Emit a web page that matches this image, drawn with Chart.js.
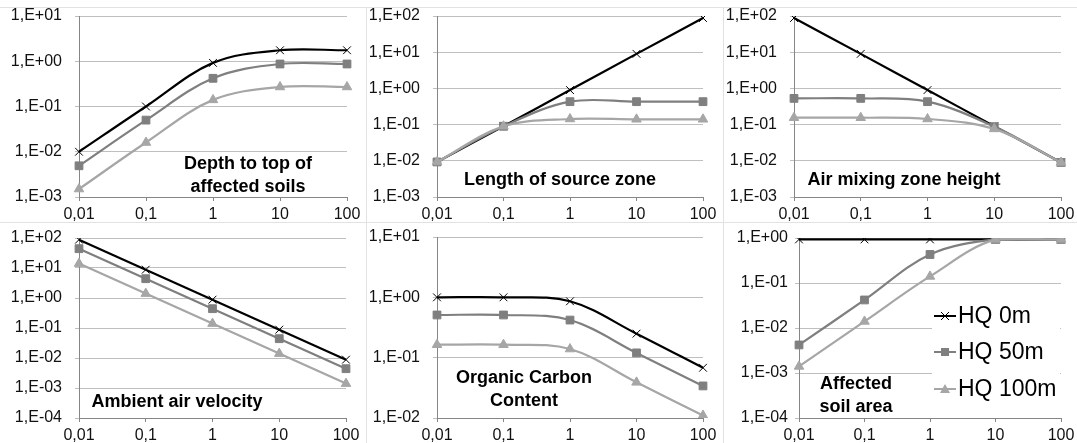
<!DOCTYPE html>
<html>
<head>
<meta charset="utf-8">
<script src="https://cdn.jsdelivr.net/npm/chart.js@4/dist/chart.umd.min.js"></script>
<style>
  body { margin: 0; background: #fff; }
  #wrap { position: relative; width: 1077px; height: 443px; overflow: hidden; background: #fff; }
  .cell { position: absolute; }
  .cell canvas { display: block; }
  .hline { position: absolute; left: 0; width: 1077px; height: 1px; background: #e2e2e2; }
  .vline { position: absolute; top: 7px; width: 1px; height: 436px; background: #e2e2e2; }
</style>
</head>
<body>
<div id="wrap">
  <div class="hline" style="top:7px"></div>
  <div class="hline" style="top:222px"></div>
  <div class="vline" style="left:366px"></div>
  <div class="vline" style="left:723px"></div>
</div>
<script>
const xLabels = ['0,01', '0,1', '1', '10', '100'];
const seriesNames = ['HQ 0m', 'HQ 50m', 'HQ 100m'];

const depth0 = [0.01, 0.1, 0.92, 1.75, 1.75];
const depth50 = [0.0049, 0.05, 0.42, 0.87, 0.87];
const depth100 = [0.0015, 0.016, 0.14, 0.27, 0.27];

const length0 = [0.0093, 0.09, 0.9, 9, 88];
const length50 = [0.0093, 0.09, 0.43, 0.43, 0.43];
const length100 = [0.0093, 0.09, 0.143, 0.14, 0.14];

const mixing0 = [88, 9, 0.9, 0.09, 0.009];
const mixing50 = [0.53, 0.53, 0.43, 0.088, 0.009];
const mixing100 = [0.155, 0.155, 0.143, 0.076, 0.009];

const velocity0 = [88, 8.8, 0.88, 0.088, 0.0088];
const velocity50 = [44, 4.4, 0.44, 0.044, 0.0044];
const velocity100 = [14, 1.4, 0.14, 0.014, 0.0014];

const carbon0 = [1.0, 1.0, 0.86, 0.25, 0.068];
const carbon50 = [0.51, 0.51, 0.42, 0.12, 0.034];
const carbon100 = [0.164, 0.164, 0.139, 0.039, 0.011];

const area0 = [0.93, 0.93, 0.93, 0.93, 0.93];
const area50 = [0.0042, 0.042, 0.43, 0.93, 0.93];
const area100 = [0.0014, 0.014, 0.14, 0.93, 0.93];

const yMins = [1e-3, 1e-3, 1e-3, 1e-4, 1e-2, 1e-4];
const yMaxs = [10, 100, 100, 100, 10, 1];

const titles = [
  ['Depth to top of', 'affected soils'],
  ['Length of source zone'],
  ['Air mixing zone height'],
  ['Ambient air velocity'],
  ['Organic Carbon', 'Content'],
  ['Affected', 'soil area']
];

const colors = ['#000000', '#7f7f7f', '#a6a6a6'];
const FONT = '"Liberation Sans", Arial, sans-serif';

// cell boxes and plot-area insets (left axis width, right pad, top pad, x axis height)
const panels = [
  { box: [0, 0, 366, 222], yw: 79, pr: 19, pt: 16, xh: 25, tp: 13, data: [depth0, depth50, depth100], title: [248, 164, 187] },
  { box: [367, 0, 356, 222], yw: 70, pr: 20, pt: 16, xh: 25, tp: 13, data: [length0, length50, length100], title: [193, 180] },
  { box: [724, 0, 353, 222], yw: 70, pr: 16, pt: 16, xh: 25, tp: 13, data: [mixing0, mixing50, mixing100], title: [180, 180] },
  { box: [0, 222, 366, 221], yw: 79, pr: 20, pt: 16, xh: 25, tp: 13, data: [velocity0, velocity50, velocity100], title: [177, 180] },
  { box: [367, 222, 356, 221], yw: 70, pr: 20, pt: 15, xh: 25, tp: 13, data: [carbon0, carbon50, carbon100], title: [157, 156, 179] },
  { box: [724, 222, 353, 221], yw: 75, pr: 16, pt: 16, xh: 25, tp: 7, data: [area0, area50, area100], title: [132, 162, 185], legend: true }
];

function fmtExp(v) {
  const e = Math.round(Math.log10(v));
  const s = e < 0 ? '-' : '+';
  return '1,E' + s + String(Math.abs(e)).padStart(2, '0');
}

function drawMarker(ctx, kind, x, y, color) {
  ctx.save();
  ctx.strokeStyle = color;
  ctx.fillStyle = color;
  ctx.lineWidth = 1;
  if (kind === 0) {
    const r = 4;
    ctx.beginPath();
    ctx.moveTo(x - r, y - r); ctx.lineTo(x + r, y + r);
    ctx.moveTo(x + r, y - r); ctx.lineTo(x - r, y + r);
    ctx.stroke();
  } else if (kind === 1) {
    ctx.fillRect(x - 4, y - 4, 8, 8);
  } else {
    ctx.beginPath();
    ctx.moveTo(x, y - 5); ctx.lineTo(x + 5, y + 4); ctx.lineTo(x - 5, y + 4);
    ctx.closePath();
    ctx.fill();
  }
  ctx.restore();
}

const overlay = {
  id: 'overlay',
  afterDatasetsDraw(chart, args, opts) {
    const ctx = chart.ctx;
    const p = opts.panel;
    const lines = opts.lines;
    ctx.save();
    ctx.fillStyle = '#000';
    ctx.font = 'bold 18px ' + FONT;
    ctx.textAlign = 'center';
    ctx.textBaseline = 'middle';
    lines.forEach((t, i) => ctx.fillText(t, p.title[0], p.title[1 + i]));
    if (p.legend) {
      ctx.fillStyle = '#fff';
      ctx.fillRect(208, 74, 128, 110);
      const ys = [94, 130, 167];
      seriesNames.forEach((name, i) => {
        ctx.strokeStyle = colors[i];
        ctx.lineWidth = 2;
        ctx.beginPath();
        ctx.moveTo(210, ys[i]); ctx.lineTo(232, ys[i]);
        ctx.stroke();
        drawMarker(ctx, i, 221, ys[i], colors[i]);
        ctx.fillStyle = '#000';
        ctx.font = '23px ' + FONT;
        ctx.textAlign = 'left';
        ctx.fillText(name, 234, ys[i] + 1);
      });
    }
    ctx.restore();
  }
};

const pointStyles = ['crossRot', 'rect', 'triangle'];
const pointRadii = [5.5, 5.5, 5.5];

panels.forEach((p, k) => {
  const cell = document.createElement('div');
  cell.className = 'cell';
  cell.style.left = p.box[0] + 'px';
  cell.style.top = p.box[1] + 'px';
  cell.style.width = p.box[2] + 'px';
  cell.style.height = p.box[3] + 'px';
  const cv = document.createElement('canvas');
  cv.width = p.box[2];
  cv.height = p.box[3];
  cv.style.width = p.box[2] + 'px';
  cv.style.height = p.box[3] + 'px';
  cell.appendChild(cv);
  document.getElementById('wrap').appendChild(cell);

  const decades = [];
  for (let e = Math.round(Math.log10(yMins[k])); e <= Math.round(Math.log10(yMaxs[k])); e++) decades.push(Math.pow(10, e));

  new Chart(cv, {
    type: 'line',
    data: {
      labels: xLabels,
      datasets: p.data.map((d, i) => ({
        label: seriesNames[i],
        data: d,
        borderColor: colors[i],
        backgroundColor: colors[i],
        borderWidth: 2.2,
        tension: 0.35,
        pointStyle: pointStyles[i],
        pointRadius: pointRadii[i],
        pointBorderWidth: 1,
        pointBorderColor: colors[i],
        pointBackgroundColor: colors[i],
        order: 3 - i
      }))
    },
    options: {
      responsive: false,
      animation: false,
      events: [],
      layout: { padding: { left: 0, right: p.pr, top: p.pt, bottom: 0 } },
      plugins: {
        legend: { display: false },
        tooltip: { enabled: false },
        overlay: { panel: p, lines: titles[k] }
      },
      scales: {
        x: {
          type: 'category',
          offset: false,
          afterFit(s) { s.height = p.xh; s.paddingLeft = 0; s.paddingRight = 0; },
          grid: { display: true, drawOnChartArea: false, drawTicks: true, tickLength: 4, tickColor: '#868686' },
          border: { display: true, color: '#868686', width: 1 },
          ticks: { color: '#111', font: { family: FONT, size: 16 }, padding: 4, maxRotation: 0, autoSkip: false }
        },
        y: {
          type: 'logarithmic',
          min: yMins[k],
          max: yMaxs[k],
          afterFit(s) { s.width = p.yw; s.paddingTop = 0; s.paddingBottom = 0; },
          afterBuildTicks(s) { s.ticks = decades.map(v => ({ value: v })); },
          grid: { color: '#bfbfbf', lineWidth: 1, drawTicks: true, tickLength: 4, tickColor: '#bfbfbf' },
          border: { display: true, color: '#868686', width: 1 },
          ticks: { color: '#111', font: { family: FONT, size: 16 }, padding: p.tp, autoSkip: false, callback: v => fmtExp(v) }
        }
      }
    },
    plugins: [overlay]
  });
});
</script>
</body>
</html>
